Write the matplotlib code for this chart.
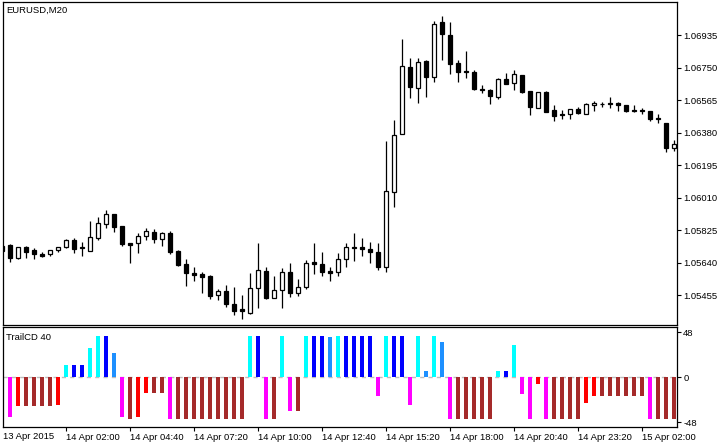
import matplotlib
matplotlib.use("Agg")
import matplotlib.pyplot as plt
import numpy as np
import pandas as pd

plt.rcParams['font.family'] = ['Liberation Sans', 'DejaVu Sans']

# ---------------- data ----------------
symbol_title = "EURUSD,M20"
indicator_title = "TrailCD 40"
start_time = "2015-04-13 23:20"
bar_minutes = 20

opens = [1.05706, 1.05740, 1.05664, 1.05727, 1.05712, 1.05689, 1.05687, 1.05710, 1.05727, 1.05768,
         1.05727, 1.05708, 1.05781, 1.05858, 1.05915, 1.05848, 1.05753, 1.05750, 1.05789, 1.05816,
         1.05776, 1.05810, 1.05708, 1.05632, 1.05581, 1.05573, 1.05564, 1.05454, 1.05478, 1.05404,
         1.05376, 1.05356, 1.05494, 1.05592, 1.05441, 1.05482, 1.05587, 1.05465, 1.05499, 1.05643,
         1.05632, 1.05592, 1.05585, 1.05659, 1.05729, 1.05729, 1.05717, 1.05698, 1.05613, 1.06043,
         1.06370, 1.06751, 1.06635, 1.06787, 1.06698, 1.07007, 1.06935, 1.06776, 1.06730, 1.06724,
         1.06628, 1.06622, 1.06584, 1.06684, 1.06660, 1.06706, 1.06616, 1.06521, 1.06611, 1.06508,
         1.06484, 1.06484, 1.06514, 1.06487, 1.06537, 1.06542, 1.06546, 1.06546, 1.06535, 1.06506,
         1.06510, 1.06502, 1.06464, 1.06434, 1.06294]
highs = [1.05746, 1.05744, 1.05729, 1.05734, 1.05721, 1.05698, 1.05712, 1.05730, 1.05774, 1.05780,
         1.05755, 1.05878, 1.05898, 1.05939, 1.05915, 1.05848, 1.05753, 1.05807, 1.05837, 1.05829,
         1.05816, 1.05821, 1.05712, 1.05659, 1.05613, 1.05585, 1.05568, 1.05488, 1.05512, 1.05499,
         1.05455, 1.05582, 1.05751, 1.05615, 1.05564, 1.05609, 1.05638, 1.05545, 1.05655, 1.05751,
         1.05700, 1.05616, 1.05693, 1.05751, 1.05808, 1.05780, 1.05755, 1.05751, 1.06332, 1.06451,
         1.06912, 1.06804, 1.06804, 1.06793, 1.07015, 1.07043, 1.07009, 1.06793, 1.06844, 1.06736,
         1.06650, 1.06628, 1.06690, 1.06720, 1.06736, 1.06707, 1.06616, 1.06611, 1.06614, 1.06537,
         1.06508, 1.06512, 1.06523, 1.06546, 1.06559, 1.06555, 1.06582, 1.06552, 1.06535, 1.06537,
         1.06518, 1.06502, 1.06485, 1.06434, 1.06337]
lows = [1.05700, 1.05645, 1.05663, 1.05668, 1.05662, 1.05670, 1.05679, 1.05702, 1.05721, 1.05696,
        1.05677, 1.05708, 1.05768, 1.05838, 1.05816, 1.05736, 1.05639, 1.05696, 1.05768, 1.05753,
        1.05734, 1.05689, 1.05622, 1.05508, 1.05537, 1.05469, 1.05431, 1.05427, 1.05389, 1.05340,
        1.05319, 1.05347, 1.05379, 1.05434, 1.05441, 1.05384, 1.05442, 1.05452, 1.05491, 1.05575,
        1.05565, 1.05537, 1.05565, 1.05616, 1.05650, 1.05679, 1.05638, 1.05599, 1.05585, 1.05958,
        1.06370, 1.06578, 1.06550, 1.06584, 1.06669, 1.06793, 1.06715, 1.06669, 1.06692, 1.06624,
        1.06603, 1.06541, 1.06572, 1.06656, 1.06620, 1.06607, 1.06481, 1.06521, 1.06498, 1.06447,
        1.06455, 1.06457, 1.06484, 1.06487, 1.06502, 1.06523, 1.06521, 1.06504, 1.06498, 1.06498,
        1.06484, 1.06444, 1.06436, 1.06271, 1.06275]
closes = [1.05736, 1.05664, 1.05727, 1.05702, 1.05687, 1.05679, 1.05710, 1.05727, 1.05768, 1.05719,
          1.05723, 1.05784, 1.05863, 1.05915, 1.05844, 1.05744, 1.05742, 1.05791, 1.05821, 1.05776,
          1.05810, 1.05702, 1.05626, 1.05579, 1.05569, 1.05560, 1.05450, 1.05478, 1.05403, 1.05366,
          1.05363, 1.05494, 1.05596, 1.05438, 1.05482, 1.05587, 1.05465, 1.05504, 1.05636, 1.05630,
          1.05585, 1.05583, 1.05659, 1.05727, 1.05725, 1.05717, 1.05698, 1.05616, 1.06047, 1.06366,
          1.06757, 1.06641, 1.06781, 1.06698, 1.06996, 1.06939, 1.06772, 1.06726, 1.06723, 1.06630,
          1.06624, 1.06589, 1.06684, 1.06658, 1.06711, 1.06611, 1.06527, 1.06611, 1.06498, 1.06476,
          1.06480, 1.06512, 1.06493, 1.06542, 1.06550, 1.06541, 1.06545, 1.06535, 1.06504, 1.06505,
          1.06501, 1.06455, 1.06455, 1.06294, 1.06315]

hist_values = [np.nan, -43.0, -31.3, -31.3, -31.3, -31.3, -31.3, -29.5, 13.2, 13.2,
               13.2, 31.3, 44.1, 44.1, 26.0, -43.0, -44.4, -43.0, -16.4, -16.4,
               -16.4, -44.4, -44.4, -44.4, -44.4, -44.4, -44.4, -44.4, -44.4, -44.4,
               -44.4, 44.1, 44.1, -44.4, -44.4, 44.1, -36.6, -36.6, 44.1, 44.1,
               44.1, 43.0, 44.1, 44.1, 44.1, 44.1, 44.1, -20.6, 44.1, 44.1,
               44.1, -30.2, 44.1, 6.8, 44.1, 37.7, -44.4, -44.4, -44.4, -44.4,
               -44.4, -44.4, 6.8, 6.8, 34.5, -18.5, -44.4, -7.8, -44.4, -44.4,
               -44.4, -44.4, -44.4, -28.1, -19.6, -19.6, -19.6, -19.6, -19.6, -19.6,
               -19.6, -44.4, -44.4, -44.4, -44.4]
hist_states = ['B', 'M', 'R', 'B', 'B', 'B', 'B', 'R', 'C', 'BL',
               'BL', 'C', 'C', 'BL', 'DB', 'M', 'B', 'R', 'R', 'B',
               'B', 'M', 'B', 'B', 'B', 'B', 'B', 'B', 'B', 'B',
               'B', 'C', 'BL', 'M', 'B', 'C', 'M', 'B', 'C', 'BL',
               'BL', 'DB', 'C', 'BL', 'BL', 'BL', 'BL', 'M', 'C', 'BL',
               'BL', 'M', 'C', 'DB', 'C', 'DB', 'M', 'B', 'B', 'B',
               'B', 'B', 'C', 'BL', 'C', 'M', 'M', 'R', 'M', 'B',
               'B', 'B', 'B', 'R', 'R', 'B', 'B', 'B', 'B', 'B',
               'B', 'M', 'B', 'B', 'B']
state_colors = {'M': '#FF00FF', 'R': '#FF0000', 'B': '#A52A2A',
                'C': '#00FFFF', 'BL': '#0000FF', 'DB': '#1E90FF'}

price_ticks = [1.05455, 1.05640, 1.05825, 1.06010, 1.06195, 1.06380, 1.06565, 1.06750, 1.06935]
ind_ticks = [-48, 0, 48]
label_every = 8

# ---------------- figure ----------------
W, H = 726, 444
fig = plt.figure(figsize=(W / 100, H / 100), dpi=100)
fig.patch.set_facecolor('white')

left_px, right_px = 2.5, 677
ax1 = fig.add_axes([left_px / W, (H - 325) / H, (right_px - left_px) / W, 323 / H])
ax2 = fig.add_axes([left_px / W, 17 / H, (right_px - left_px) / W, 100 / H])

n = len(opens)
idx = np.arange(n)
o = np.array(opens); h = np.array(highs); l = np.array(lows); c = np.array(closes)

# wicks
ax1.vlines(idx, l, h, color='black', linewidth=0.9, zorder=1)
# bodies
bull = c > o
bottoms = np.minimum(o, c)
heights = np.maximum(np.abs(c - o), 0.000008)
ax1.bar(idx, heights, bottom=bottoms, width=0.5,
        color=np.where(bull, 'white', 'black'), edgecolor='black', linewidth=0.9, zorder=2)

xlim = ((left_px - 2) / 8, (right_px - 2) / 8)
ax1.set_xlim(*xlim)
ax1.set_ylim(1.05285, 1.07123)
ax1.set_xticks([])
ax1.yaxis.tick_right()
ax1.set_yticks(price_ticks)
ax1.set_yticklabels([f"{p:.5f}" for p in price_ticks])
ax1.tick_params(axis='y', direction='out', length=3, width=0.8, labelsize=6.8, pad=1.5, colors='black')

# indicator
cols = [state_colors[s] for s in hist_states]
ax2.axhline(0, color='#BDBDBD', linestyle=(0, (3, 3)), linewidth=1.0, zorder=0)
ax2.bar(idx, hist_values, width=0.5, color=cols, linewidth=0, zorder=2)
ax2.set_xlim(*xlim)
ax2.set_ylim(-53.2, 53.5)
ax2.yaxis.tick_right()
ax2.set_yticks(ind_ticks)
ax2.set_yticklabels([str(t) for t in ind_ticks])
ax2.tick_params(axis='y', direction='out', length=3, width=0.8, labelsize=6.8, pad=1.5)

times = pd.date_range(start_time, periods=n, freq=f"{bar_minutes}min")
tick_idx = list(range(label_every, n, label_every))
tick_lbls = [times[i].strftime('%d %b %H:%M') for i in tick_idx]
ax2.set_xticks(tick_idx)
ax2.set_xticklabels(tick_lbls)
for lbl in ax2.get_xticklabels():
    lbl.set_horizontalalignment('left')
ax2.tick_params(axis='x', direction='out', length=3, width=0.8, labelsize=6.8, pad=1.5)
fig.text(3 / W, 1 - 436 / H, times[0].strftime('%d %b %Y'), fontsize=6.8, va='center', ha='left')

for ax in (ax1, ax2):
    for sp in ax.spines.values():
        sp.set_linewidth(0.9)
        sp.set_color('black')

fig.text(6 / W, 1 - 10 / H, symbol_title, fontsize=6.8, va='center', ha='left')
fig.text(6 / W, 1 - 337 / H, indicator_title, fontsize=6.8, va='center', ha='left')

fig.savefig('out.png', dpi=100, facecolor='white')
